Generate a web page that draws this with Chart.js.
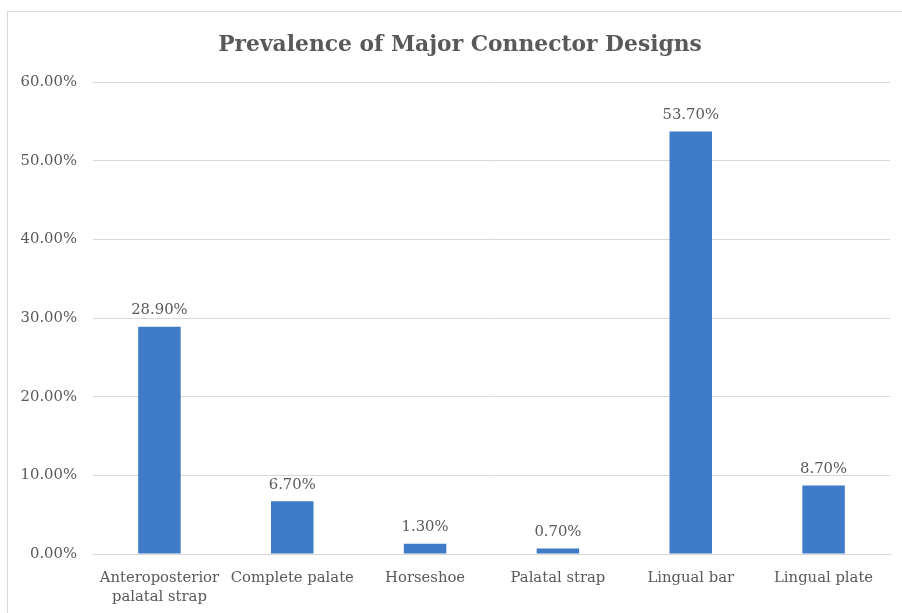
<!DOCTYPE html>
<html>
<head>
<meta charset="utf-8">
<script src="https://cdn.jsdelivr.net/npm/chart.js@4.4.1/dist/chart.umd.min.js"></script>
<style>
  html, body { margin: 0; padding: 0; background: #fff; overflow: hidden; }
  #wrap { position: relative; width: 902px; height: 613px; }
  #frame { position: absolute; left: 7px; top: 11px; width: 1000px; height: 1000px; border-left: 1px solid #d9d9d9; border-top: 1px solid #d9d9d9; pointer-events: none; }
  canvas { position: absolute; left: 0; top: 0; }
</style>
</head>
<body>
<div id="wrap">
  <canvas id="c" width="902" height="613"></canvas>
  <div id="frame"></div>
</div>
<script>
const categories = [
  ['Anteroposterior', 'palatal strap'],
  'Complete palate',
  'Horseshoe',
  'Palatal strap',
  'Lingual bar',
  'Lingual plate'
];
const prevalence = [28.9, 6.7, 1.3, 0.7, 53.7, 8.7];
const yMin = 0, yMax = 60, yStep = 10;
const chartTitle = 'Prevalence of Major Connector Designs';

const TEXT = '#595959';
const FONT = "'DejaVu Serif', 'Liberation Serif', serif";

const valueLabels = {
  id: 'valueLabels',
  afterDatasetsDraw(chart) {
    const ctx = chart.ctx;
    const meta = chart.getDatasetMeta(0);
    ctx.save();
    ctx.font = "14.8px " + FONT;
    ctx.fillStyle = TEXT;
    ctx.textAlign = 'center';
    ctx.textBaseline = 'bottom';
    meta.data.forEach((bar, i) => {
      const v = chart.data.datasets[0].data[i];
      ctx.fillText(v.toFixed(2) + '%', bar.x, bar.y - 9);
    });
    ctx.restore();
  }
};

const titleDraw = {
  id: 'titleDraw',
  afterDraw(chart) {
    const ctx = chart.ctx;
    ctx.save();
    ctx.font = "bold 21.8px " + FONT;
    ctx.fillStyle = TEXT;
    ctx.textAlign = 'center';
    ctx.textBaseline = 'middle';
    ctx.fillText(chartTitle, 460, 45);
    ctx.restore();
  }
};

new Chart(document.getElementById('c'), {
  type: 'bar',
  data: {
    labels: categories,
    datasets: [{
      data: prevalence,
      backgroundColor: '#3F7BC8',
      borderWidth: 0,
      categoryPercentage: 1.0,
      barPercentage: 0.32
    }]
  },
  options: {
    responsive: false,
    animation: false,
    devicePixelRatio: 1,
    layout: { padding: { left: 0, right: 12, top: 82, bottom: 0 } },
    plugins: {
      legend: { display: false },
      tooltip: { enabled: false },
      title: { display: false }
    },
    scales: {
      x: {
        grid: { display: false, drawTicks: false },
        border: { display: true, color: '#d9d9d9', width: 1 },
        ticks: {
          color: TEXT,
          font: { family: FONT, size: 14.8, lineHeight: 1.33 },
          padding: 14,
          maxRotation: 0,
          autoSkip: false
        },
        afterFit(scale) { scale.height = 59; }
      },
      y: {
        min: yMin,
        max: yMax,
        grid: { color: '#d9d9d9', drawTicks: false, lineWidth: 1 },
        border: { display: false },
        ticks: {
          stepSize: yStep,
          color: TEXT,
          font: { family: FONT, size: 14.8 },
          padding: 16,
          callback: v => v.toFixed(2) + '%'
        },
        afterFit(scale) { scale.width = 93; }
      }
    }
  },
  plugins: [valueLabels, titleDraw]
});
</script>
</body>
</html>
